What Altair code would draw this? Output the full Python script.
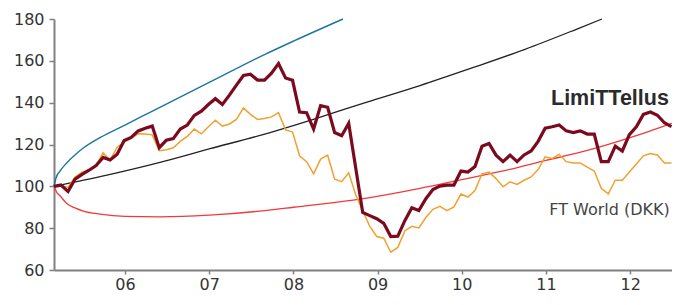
import altair as alt
import pandas as pd

# ---- data ----
start_year = 2005.157
limittellus = [100, 100.6, 97.5, 103.4, 105.7, 107.7, 109.9, 113.8, 112.6, 115.3,
               121.9, 123.4, 126.5, 127.8, 128.8, 118.5, 122, 122.8, 127.4, 129.3,
               133.9, 135.9, 139.1, 141.9, 139.1, 143.6, 148.4, 153, 153.6, 150.8,
               150.8, 154.1, 158.7, 151.8, 150.7, 135.5, 135.2, 127.4, 138.6, 137.8,
               125.7, 124.2, 130.1, None, 87.5, 86, 84.5, 82.3, 76, 76.2,
               83.6, 89.8, 88.4, 94.1, 98.5, 100.1, 100.6, 100.6, 107.3, 106.8,
               109.5, 119.2, 120.5, 114.9, 111.8, 114.9, 111.8, 115, 116.9, 121.5,
               127.8, 128.5, 129.3, 126.5, 125.7, 126.5, 125, 125, 111.8, 111.8,
               119.2, 116.9, 124.7, 128.5, 134.4, 135.5, 134, 130.4, 128.5]
ft_world = [100, 100.3, 99.5, 104.5, 106.8, 107.8, 110, 116, 112.5, 118.7,
            121.1, 123.1, 125.1, 125, 124.6, 117, 117.5, 118.4, 121.5, 123.9,
            127.4, 125.1, 128.5, 131.6, 128.8, 129.8, 132, 137.5, 134.4, 132,
            132.4, 133.2, 135.2, 127, 125.9, 114.6, 111.8, 106, 113, 114.9,
            103.4, 102.2, 106.5, 96, 88.2, 81, 76, 75.2, 68.5, 70.8,
            78.7, 80.9, 80.1, 85.1, 89, 90.4, 88.4, 90.2, 96.3, 94.9,
            98, 106, 106.8, 103.7, 99.8, 102.2, 100.9, 102.9, 104.5, 108,
            114.1, 113.3, 115.3, 111.8, 111.2, 111.2, 109.2, 107.3, 99.1, 96.4,
            102.9, 102.9, 106.8, 110.7, 114.6, 115.7, 115, 111.2, 111.2]

upper_x = [2005.157, 2005.181, 2005.228, 2005.308, 2005.406, 2005.505, 2005.703,
           2006.0, 2006.356, 2007.0, 2007.663, 2008.0, 2008.589]
upper_y = [100, 104, 107.3, 111.2, 115, 118.3, 123.3, 129.3, 136.6, 149.7, 163.1, 169.4, 180]

mid_x = [2005.157, 2005.786, 2006.416, 2007.010, 2007.627, 2008.257, 2008.874,
         2009.504, 2010.121, 2010.751, 2011.368, 2011.665]
mid_y = [100, 105.4, 111.5, 118, 124.6, 132.3, 140.3, 148.2, 156.6, 165.5, 175.2, 180]

lower_x = [2005.157, 2005.192, 2005.228, 2005.308, 2005.406, 2005.505, 2005.703,
           2006.0, 2006.416, 2007.0, 2007.663, 2008.0, 2008.91, 2009.504, 2010.0,
           2010.57, 2011.0, 2011.40, 2012.0, 2012.495]
lower_y = [100, 97, 95.5, 91.8, 89.7, 88.2, 86.7, 85.6, 85.4, 86.2, 88.4, 90, 94.6,
           99, 103.2, 108.1, 112.4, 116.2, 123.3, 130.1]

x_ticks = [2006, 2007, 2008, 2009, 2010, 2011, 2012]
y_ticks = [60, 80, 100, 120, 140, 160, 180]

label_text = ["LimiTTellus", "FT World (DKK)"]
label_x = [2011.06, 2011.04]
label_y = [138.9, 86.2]

# ---- tables ----
months = [start_year + i / 12 for i in range(len(limittellus))]
df_lim = pd.DataFrame({"x": months, "y": limittellus}).dropna()
df_ftw = pd.DataFrame({"x": months, "y": ft_world}).dropna()
df_up = pd.DataFrame({"x": upper_x, "y": upper_y})
df_mid = pd.DataFrame({"x": mid_x, "y": mid_y})
df_low = pd.DataFrame({"x": lower_x, "y": lower_y})
df_lab = pd.DataFrame({"x": label_x, "y": label_y, "t": label_text})

FONT = "DejaVu Sans"

xs = alt.Scale(domain=[2005.157, 2012.497], nice=False, zero=False)
ys = alt.Scale(domain=[60, 180], nice=False, zero=False)

x_axis = alt.Axis(values=x_ticks, labelExpr="substring(toString(datum.value), 2, 4)",
                  title=None, grid=False, domainColor="#808080", domainWidth=2,
                  tickColor="#808080", tickWidth=1.5, tickSize=4,
                  labelFont=FONT, labelFontSize=16, labelColor="#333333",
                  labelPadding=2)
y_axis = alt.Axis(values=y_ticks, title=None, grid=False, domainColor="#808080",
                  domainWidth=2, tickColor="#808080", tickWidth=1.5, tickSize=5,
                  labelFont=FONT, labelFontSize=16, labelColor="#333333",
                  labelPadding=5)

X = alt.X("x:Q", scale=xs, axis=x_axis)
Y = alt.Y("y:Q", scale=ys, axis=y_axis)


def line(df, color, width, smooth):
    return alt.Chart(df).mark_line(color=color, strokeWidth=width,
                                   interpolate="monotone" if smooth else "linear",
                                   clip=False).encode(x=X, y=Y)


upper = line(df_up, "#1b75a0", 1.4, True)
mid = line(df_mid, "#222222", 1.3, True)
lower = line(df_low, "#f03a3a", 1.3, True)
ftw = line(df_ftw, "#f0a12e", 1.5, False)
lim = line(df_lim, "#7b0a1e", 3.2, False)

lab1 = alt.Chart(df_lab.iloc[[0]]).mark_text(
    align="left", baseline="alphabetic", font="Liberation Sans", fontSize=21.5,
    fontWeight="bold", color="#2b2b2b").encode(x=X, y=Y, text="t:N")
lab2 = alt.Chart(df_lab.iloc[[1]]).mark_text(
    align="left", baseline="alphabetic", font=FONT, fontSize=16,
    color="#444444").encode(x=X, y=Y, text="t:N")

chart = alt.layer(upper, mid, lower, ftw, lim, lab1, lab2).properties(
    width=618, height=251,
    autosize=alt.AutoSizeParams(type="none"),
    padding={"left": 46, "top": 11, "right": 0, "bottom": 22},
    background="white",
).configure_view(stroke=None)

chart.save("out.html", embed_options={"renderer": "svg", "actions": False})
